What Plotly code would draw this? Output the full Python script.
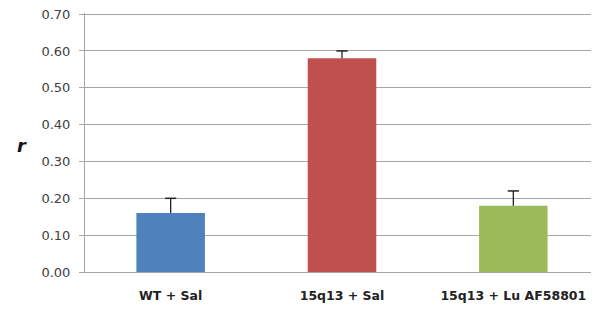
import plotly.graph_objects as go

categories = ["WT + Sal", "15q13 + Sal", "15q13 + Lu AF58801"]
values = [0.16, 0.58, 0.18]
errors = [0.04, 0.02, 0.04]
colors = ["#4F81BD", "#C0504D", "#9BBB59"]
y_ticks = [0.0, 0.1, 0.2, 0.3, 0.4, 0.5, 0.6, 0.7]

# error bar stems (upper only) built from the data
ex, ey = [], []
for c, v, e in zip(categories, values, errors):
    ex += [c, c, None]
    ey += [v, v + e, None]
tops = [v + e for v, e in zip(values, errors)]

fig = go.Figure()
fig.add_trace(go.Bar(
    x=categories, y=values,
    marker=dict(color=colors, line=dict(width=0)),
    width=0.4,
))
fig.add_trace(go.Scatter(
    x=ex, y=ey, mode="lines", line=dict(color="#222222", width=1.3),
    hoverinfo="skip",
))
fig.add_trace(go.Scatter(
    x=categories, y=tops, mode="markers",
    marker=dict(symbol="line-ew", size=8, line=dict(color="#222222", width=1.5)),
    hoverinfo="skip",
))

# page body has an 8px default margin; size the figure so the plot lands where it should
fig.update_layout(
    width=591, height=302,
    margin=dict(l=77, r=0, t=5, b=38),
    paper_bgcolor="white", plot_bgcolor="white",
    font=dict(family="DejaVu Sans, sans-serif", size=13, color="#404040"),
    showlegend=False,
)
fig.update_yaxes(
    range=[0, 0.703], tickvals=y_ticks, ticktext=[f"{v:.2f}" for v in y_ticks],
    showgrid=True, gridcolor="#A6A6A6", gridwidth=1,
    showline=True, linecolor="#A6A6A6", linewidth=1,
    ticks="outside", ticklen=5, tickcolor="#A6A6A6",
    zeroline=False, tickfont=dict(size=13, color="#404040"),
    ticklabelstandoff=6, ticklabeloverflow="allow",
    automargin=False,
)
fig.update_xaxes(
    showline=True, linecolor="#A6A6A6", linewidth=1,
    ticks="", showgrid=False,
    tickfont=dict(size=12.5, color="#222222"),
    ticktext=[f"<b>{c}</b>" for c in categories], tickvals=categories,
    ticklabelstandoff=12,
    automargin=False,
)
fig.add_annotation(
    text="<b><i>r</i></b>", xref="paper", yref="paper",
    x=-0.123, y=0.49, xanchor="center", yanchor="middle",
    showarrow=False, font=dict(size=18, color="#111111"),
)

fig.write_html("out.html")
